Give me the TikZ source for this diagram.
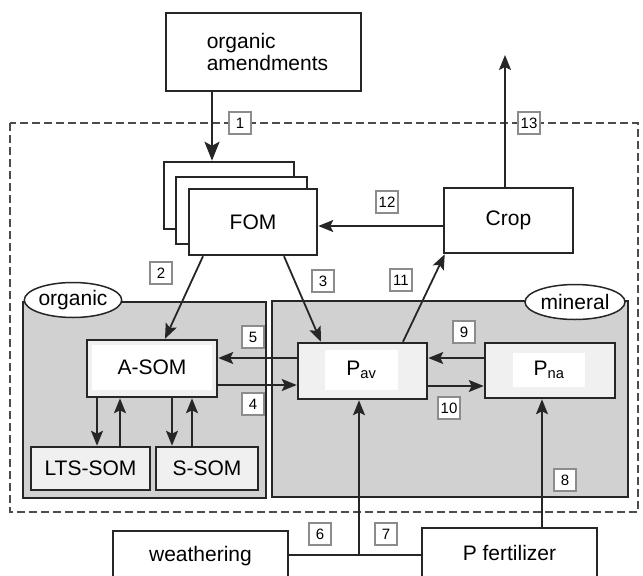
\documentclass[tikz,border=0pt]{standalone}
\usepackage{fontspec}
\setmainfont{Liberation Sans}
\usetikzlibrary{arrows.meta,shapes.geometric}
\begin{document}
\begin{tikzpicture}[x=1pt,y=-1pt,
  box/.style={draw=black!85,line width=2.5pt,fill=white,inner sep=0pt,font=\fontsize{21}{22}\selectfont},
  gbox/.style={box,fill=black!6},
  inner/.style={fill=white,inner sep=0pt,font=\fontsize{21}{22}\selectfont},
  panel/.style={draw=black!85,line width=2pt,fill=black!18},
  tag/.style={draw=black!85,line width=1.5pt,fill=white,ellipse,inner sep=0pt,font=\fontsize{21}{22}\selectfont},
  lbl/.style={draw=black!45,line width=1.3pt,fill=white,minimum width=22pt,minimum height=22pt,inner sep=0pt,font=\fontsize{15}{15}\selectfont},
  arr/.style={-{Stealth[length=15pt,width=12pt,inset=3pt]},line width=1.8pt,draw=black!85},
  bigarr/.style={-{Stealth[length=19pt,width=15pt,inset=4pt]},line width=2.5pt,draw=black!85},
  ln/.style={line width=1.8pt,draw=black!85}]
\useasboundingbox (0,0) rectangle (643,576);
% dashed system boundary
\draw[black!70,line width=1.6pt,dash pattern=on 8pt off 4pt] (10,123) rectangle (638,512);
% panels
\draw[panel] (23,302) rectangle (266,498);
\draw[panel] (272,301) rectangle (628,497);
\node[tag,minimum width=96pt,minimum height=35pt] (torg) at (73,300) {organic};
\node[tag,minimum width=100pt,minimum height=35pt] (tmin) at (575,302) {mineral};
% boxes
\node[box,minimum width=195pt,minimum height=78pt,align=left] (amend) at (263.5,52) {\hspace*{8pt}organic\\\hspace*{8pt}amendments};
\node[box,minimum width=130pt,minimum height=67pt] (fom3) at (229,195.5) {};
\node[box,minimum width=131pt,minimum height=67pt] (fom2) at (241.5,210.5) {};
\node[box,minimum width=128pt,minimum height=66pt] (fom) at (253,222) {FOM};
\node[box,minimum width=129pt,minimum height=65pt] (crop) at (508.5,220.5) {Crop};
\node[gbox,minimum width=130pt,minimum height=57pt] (asom) at (152,368.5) {};
\node[inner,minimum width=120pt,minimum height=45pt] (asomt) at (152,367.5) {A-SOM};
\node[gbox,minimum width=119pt,minimum height=43pt] (lts) at (90.5,468.5) {LTS-SOM};
\node[gbox,minimum width=102pt,minimum height=43pt] (ssom) at (207,468.5) {S-SOM};
\node[gbox,minimum width=129pt,minimum height=56pt] (pav) at (362.5,371) {};
\node[inner,minimum width=73pt,minimum height=40pt] (pavt) at (361.5,370) {P\textsubscript{av}};
\node[gbox,minimum width=130pt,minimum height=55pt] (pna) at (550,370.5) {};
\node[inner,minimum width=72pt,minimum height=34pt] (pnat) at (549,370) {P\textsubscript{na}};
\node[box,minimum width=175pt,minimum height=50pt] (weath) at (200.5,556) {weathering};
\node[box,minimum width=175pt,minimum height=50pt] (pfert) at (509.5,553) {P fertilizer};
% helper coordinates
\coordinate (x1) at (212,0);
\coordinate (x2a) at (203,0);
\coordinate (x2b) at (165,0);
\coordinate (x3a) at (284,0);
\coordinate (x3b) at (321,0);
\coordinate (x11) at (403,0);
\coordinate (y12) at (0,226);
\coordinate (x13) at (505,0);
\coordinate (top13) at (505,55);
\coordinate (y5) at (0,358);
\coordinate (y4) at (0,385);
\coordinate (y10) at (0,386);
\coordinate (xa) at (97,0);
\coordinate (xb) at (120,0);
\coordinate (xc) at (172,0);
\coordinate (xd) at (192,0);
\coordinate (x8) at (542,0);
\coordinate (y6) at (0,555);
\coordinate (j) at (359,555);
% connectors
\draw[bigarr] (amend.south -| x1) -- (fom3.north -| x1);
\draw[arr] (fom.south -| x2a) -- (asom.north -| x2b);
\draw[arr] (fom.south -| x3a) -- (pav.north -| x3b);
\draw[arr] (pav.north -| x11) -- ([xshift=2pt]crop.south west);
\draw[arr] (crop.west |- y12) -- (fom.east |- y12);
\draw[arr] (crop.north -| x13) -- (top13);
\draw[arr] (pav.west |- y5) -- (asom.east |- y5);
\draw[arr] (asom.east |- y4) -- (pav.west |- y4);
\draw[arr] (pna.west |- y5) -- (pav.east |- y5);
\draw[arr] (pav.east |- y10) -- (pna.west |- y10);
\draw[arr] (asom.south -| xa) -- (lts.north -| xa);
\draw[arr] (lts.north -| xb) -- (asom.south -| xb);
\draw[arr] (asom.south -| xc) -- (ssom.north -| xc);
\draw[arr] (ssom.north -| xd) -- (asom.south -| xd);
\draw[arr] (pfert.north -| x8) -- (pna.south -| x8);
\draw[ln] (weath.east |- y6) -- (j);
\draw[ln] (pfert.west |- y6) -- (j);
\draw[arr] (j) -- (pav.south -| j);
% flow labels
\node[lbl] (l1) at (240,123) {1};
\node[lbl] (l2) at (161,273) {2};
\node[lbl] (l3) at (323,281) {3};
\node[lbl] (l4) at (253,404) {4};
\node[lbl] (l5) at (253,337) {5};
\node[lbl] (l6) at (320,534) {6};
\node[lbl] (l7) at (386,534) {7};
\node[lbl] (l8) at (565,480) {8};
\node[lbl] (l9) at (464,332) {9};
\node[lbl] (l10) at (449,408) {10};
\node[lbl] (l11) at (401,280) {11};
\node[lbl] (l12) at (387,202) {12};
\node[lbl] (l13) at (529,123) {13};
\end{tikzpicture}
\end{document}
